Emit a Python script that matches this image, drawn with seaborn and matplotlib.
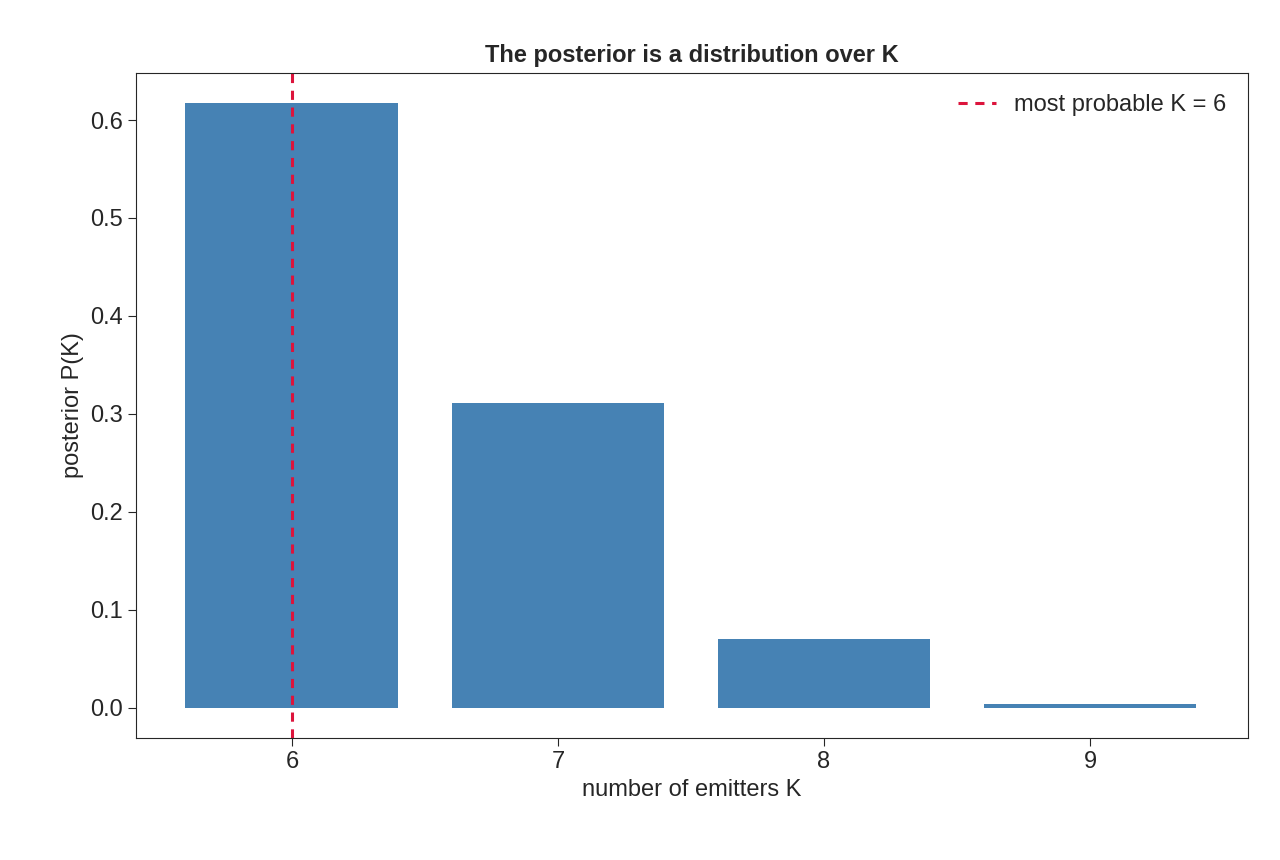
import pandas as pd
import seaborn as sns
import matplotlib.pyplot as plt

k_values = [6, 7, 8, 9]
posterior = [0.617, 0.311, 0.070, 0.004]
best_k = 6

sns.set_style("ticks")
plt.rcParams['font.family'] = ['Liberation Sans', 'DejaVu Sans']

df = pd.DataFrame({"K": k_values, "P": posterior})

fig = plt.figure(figsize=(12.8, 8.6), dpi=100)
ax = fig.add_axes([136 / 1280, 1 - 738 / 860, 1112 / 1280, 665 / 860])
sns.barplot(data=df, x="K", y="P", native_scale=True, width=0.8,
            color="steelblue", saturation=1, edgecolor="none", ax=ax)
ax.axvline(best_k, color="crimson", linestyle=(0, (3, 2.5)), linewidth=2.2,
           label=f"most probable K = {best_k}")

ax.set_xlim(5.414, 9.594)
ax.set_ylim(-0.031, 0.648)
ax.set_xticks(k_values)
ax.set_xticklabels([str(k) for k in k_values])
ax.set_yticks([0.0, 0.1, 0.2, 0.3, 0.4, 0.5, 0.6])
ax.tick_params(labelsize=17, length=6)
ax.set_xlabel("number of emitters K", fontsize=17)
ax.set_ylabel("posterior P(K)", fontsize=17)
ax.set_title("The posterior is a distribution over K", fontsize=17, fontweight="bold", pad=8)
ax.legend(loc="upper right", frameon=False, fontsize=17, handlelength=1.6)

fig.savefig("out.png", dpi=100)
